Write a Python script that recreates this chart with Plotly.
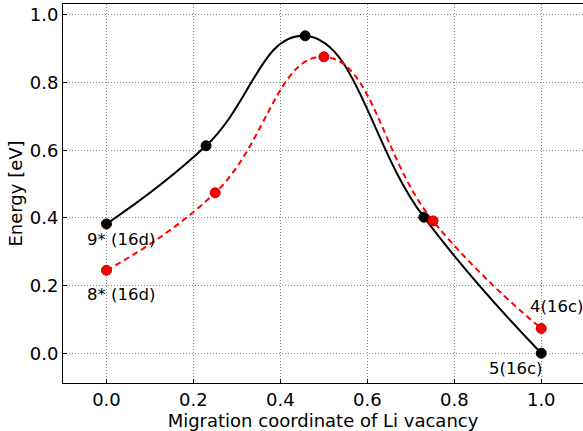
import plotly.graph_objects as go

# Data
x_black = [0.0, 0.229, 0.457, 0.730, 1.0]
e_black = [0.382, 0.613, 0.938, 0.402, 0.0]
x_red = [0.0, 0.25, 0.50, 0.751, 1.0]
e_red = [0.245, 0.474, 0.876, 0.391, 0.073]

x_ticks = [0.0, 0.2, 0.4, 0.6, 0.8, 1.0]
y_ticks = [0.0, 0.2, 0.4, 0.6, 0.8, 1.0]
tick_text_x = ["0.0", "0.2", "0.4", "0.6", "0.8", "1.0"]
tick_text_y = ["0.0", "0.2", "0.4", "0.6", "0.8", "1.0"]

labels = ["9* (16d)", "8* (16d)", "4(16c)", "5(16c)"]

FONT = "DejaVu Sans"

fig = go.Figure()
fig.add_trace(go.Scatter(
    x=x_black, y=e_black, mode="lines+markers",
    line=dict(color="black", width=2, shape="spline", smoothing=1.3),
    marker=dict(color="black", size=10, line=dict(color="black", width=1)),
    showlegend=False, cliponaxis=False))
fig.add_trace(go.Scatter(
    x=x_red, y=e_red, mode="lines+markers",
    line=dict(color="red", width=2, dash="6px,4px", shape="spline", smoothing=1.3),
    marker=dict(color="red", size=10, line=dict(color="#c00000", width=1)),
    showlegend=False, cliponaxis=False))

# labels near endpoints: (x, y, text, xshift px, yshift px)
ann = [
    (x_black[0], e_black[0], labels[0], -21, -16),
    (x_red[0], e_red[0], labels[1], -21, -24),
    (x_red[-1], e_red[-1], labels[2], -13, 22),
    (x_black[-1], e_black[-1], labels[3], -54, -15),
]
for xv, yv, t, dx, dy in ann:
    fig.add_annotation(x=xv, y=yv, text=t, showarrow=False,
                       xanchor="left", yanchor="middle",
                       xshift=dx, yshift=dy,
                       font=dict(family=FONT, size=16.5, color="black"))

fig.update_layout(
    width=583, height=431,
    margin=dict(l=63, r=0, t=4, b=48),
    paper_bgcolor="white", plot_bgcolor="white",
    font=dict(family=FONT, size=18, color="black"),
)
fig.update_xaxes(
    range=[-0.1, 1.096], tickvals=x_ticks, ticktext=tick_text_x,
    showline=True, linecolor="black", linewidth=1, mirror=True,
    ticks="inside", ticklen=4, tickcolor="black",
    showgrid=True, gridcolor="#8a8a8a", griddash="1px,2px", gridwidth=1,
    zeroline=False, automargin=False,
    title=dict(text="Migration coordinate of Li vacancy", standoff=0,
               font=dict(family=FONT, size=18)),
    tickfont=dict(family=FONT, size=18),
)
fig.update_yaxes(
    range=[-0.088, 1.032], tickvals=y_ticks, ticktext=tick_text_y,
    showline=True, linecolor="black", linewidth=1, mirror=False,
    ticks="inside", ticklen=4, tickcolor="black",
    showgrid=True, gridcolor="#8a8a8a", griddash="1px,2px", gridwidth=1,
    zeroline=False, automargin=False,
    title=dict(text="Energy [eV]", standoff=2, font=dict(family=FONT, size=18)),
    tickfont=dict(family=FONT, size=18),
)
fig.write_html("out.html",
               config={"displayModeBar": False},
               post_script="document.body.style.margin='0px';document.body.style.overflow='hidden';")
